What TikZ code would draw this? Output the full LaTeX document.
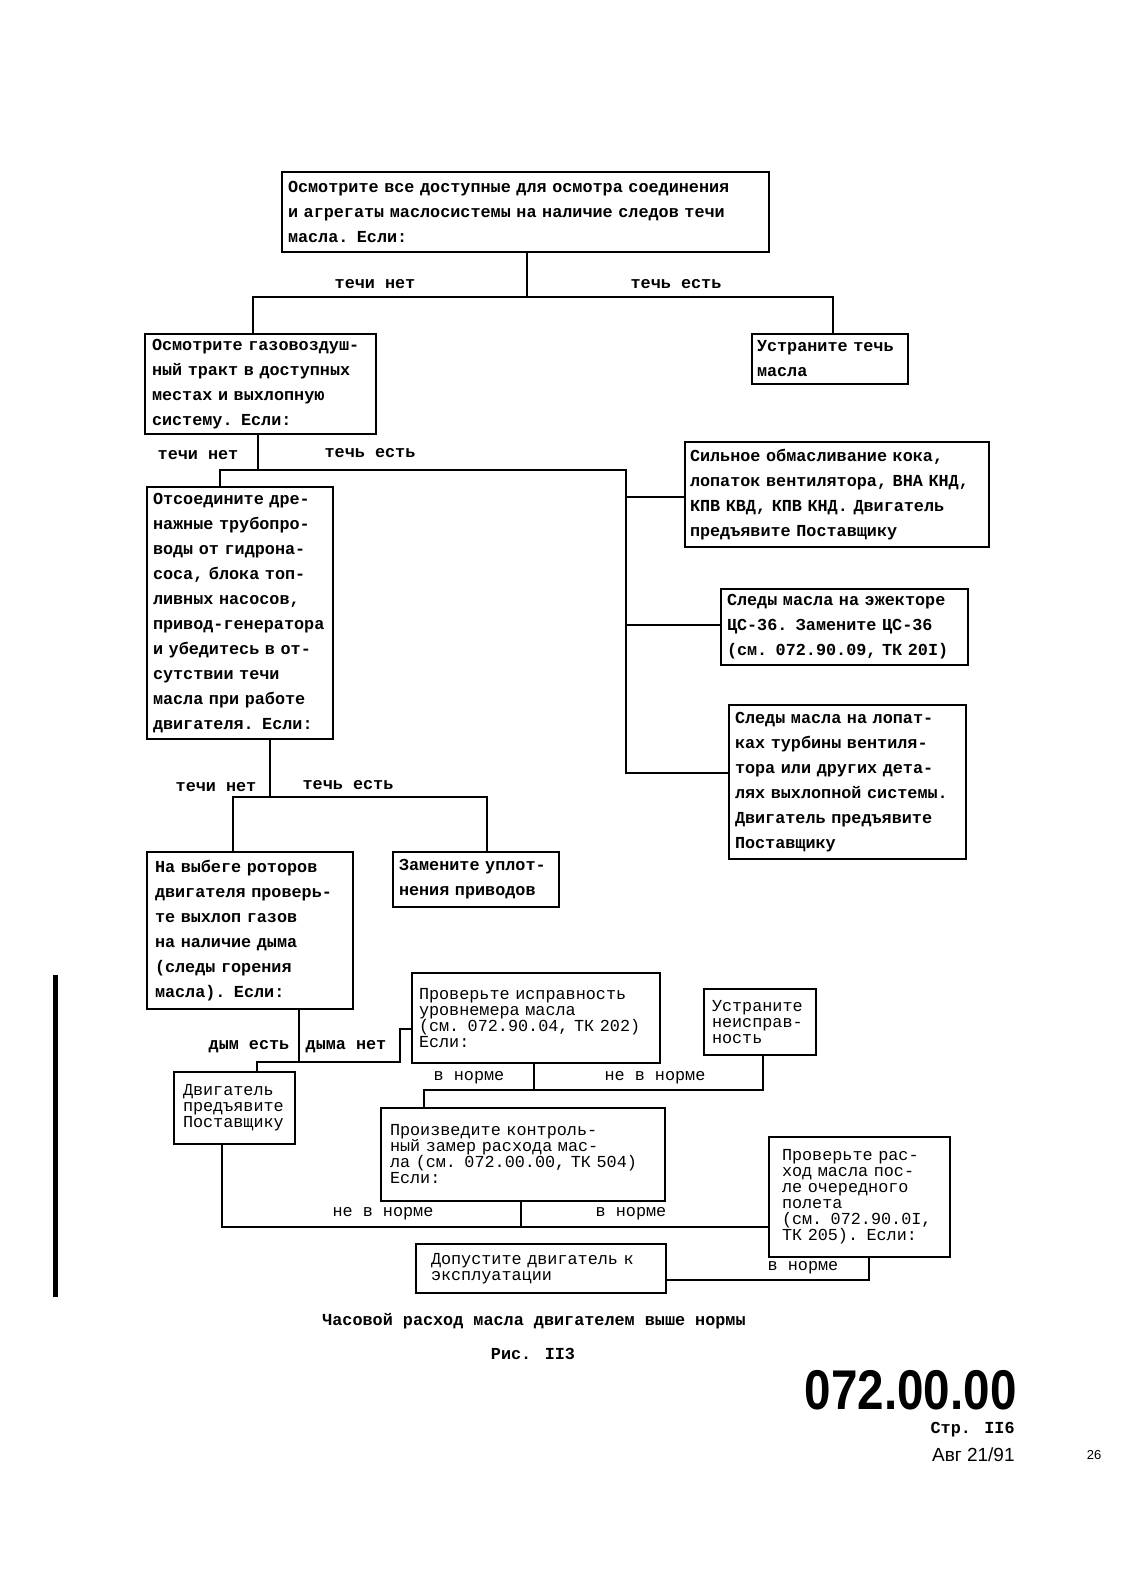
\documentclass[tikz,border=0pt]{standalone}
\usepackage{fontspec}
\newfontfamily\tw{Liberation Mono}
\newfontfamily\hvc{Liberation Sans}[FakeStretch=0.85]
\newfontfamily\hv{Liberation Sans}
\begin{document}
\begin{tikzpicture}[x=0.5pt,y=-0.5pt,
  box/.style={draw,line width=1pt,anchor=north west,align=left,inner ysep=0pt,
    font=\tw\bfseries\fontsize{8.4}{12.5}\selectfont},
  lbox/.style={box,font=\tw\fontsize{8.4}{8}\selectfont},
  conn/.style={line width=0.8pt},
  lbl/.style={font=\tw\bfseries\fontsize{8.4}{10}\selectfont,inner sep=0pt},
  llbl/.style={font=\tw\fontsize{8.4}{10}\selectfont,inner sep=0pt}]
\useasboundingbox[fill=white] (0,0) rectangle (1126,1571);

% boxes
\node[box,minimum width=243.5pt,minimum height=40pt,inner xsep=3pt,text width=237.5pt] (b1) at (281,171)
 {Осмотрите все доступные для осмотра соединения\\и агрегаты маслосистемы на наличие следов течи\\масла. Если:};
\node[box,minimum width=115.5pt,minimum height=50pt,inner xsep=3.5pt,text width=108.5pt] (b2) at (144,333)
 {Осмотрите газовоздуш-\\ный тракт в доступных\\местах и выхлопную\\систему. Если:};
\node[box,minimum width=78pt,minimum height=25pt,inner xsep=2.5pt,text width=73pt] (b3) at (751,333)
 {Устраните течь\\масла};
\node[box,minimum width=93pt,minimum height=126pt,inner xsep=3pt,text width=87pt] (b4) at (146,486)
 {Отсоедините дре-\\нажные трубопро-\\воды от гидрона-\\соса, блока топ-\\ливных насосов,\\привод-генератора\\и убедитесь в от-\\сутствии течи\\масла при работе\\двигателя. Если:};
\node[box,minimum width=152pt,minimum height=52.5pt,inner xsep=2.5pt,text width=147pt] (b5) at (684,441)
 {Сильное обмасливание кока,\\лопаток вентилятора, ВНА КНД,\\КПВ КВД, КПВ КНД. Двигатель\\предъявите Поставщику};
\node[box,minimum width=123.5pt,minimum height=38pt,inner xsep=3pt,text width=117.5pt] (b6) at (720,588)
 {Следы масла на эжекторе\\ЦС-36. Замените ЦС-36\\(см. 072.90.09, ТК 20I)};
\node[box,minimum width=118.5pt,minimum height=77pt,inner xsep=3pt,text width=112.5pt] (b7) at (728,704)
 {Следы масла на лопат-\\ках турбины вентиля-\\тора или других дета-\\лях выхлопной системы.\\Двигатель предъявите\\Поставщику};
\node[box,minimum width=103pt,minimum height=78.5pt,inner xsep=4pt,text width=95pt] (b8) at (146,851)
 {На выбеге роторов\\двигателя проверь-\\те выхлоп газов\\на наличие дыма\\(следы горения\\масла). Если:};
\node[box,minimum width=83pt,minimum height=27.5pt,inner xsep=3pt,text width=77pt] (b9) at (392,851)
 {Замените уплот-\\нения приводов};
\node[lbox,minimum width=124pt,minimum height=45pt,inner xsep=3.5pt,text width=117pt] (b10) at (411,972)
 {Проверьте исправность\\уровнемера масла\\(см. 072.90.04, ТК 202)\\Если:};
\node[lbox,minimum width=56pt,minimum height=33pt,inner xsep=4pt,text width=48pt] (b14) at (703,988)
 {Устраните\\неисправ-\\ность};
\node[lbox,minimum width=60.5pt,minimum height=36pt,inner xsep=4.5pt,text width=51.5pt] (b11) at (173,1071)
 {Двигатель\\предъявите\\Поставщику};
\node[lbox,minimum width=142pt,minimum height=46.5pt,inner xsep=4.5pt,text width=133pt] (b12) at (380,1107)
 {Произведите контроль-\\ный замер расхода мас-\\ла (см. 072.00.00, ТК 504)\\Если:};
\node[lbox,minimum width=90.5pt,minimum height=60pt,inner xsep=6.5pt,text width=77.5pt] (b13) at (768,1136)
 {Проверьте рас-\\ход масла пос-\\ле очередного\\полета\\(см. 072.90.0I,\\ТК 205). Если:};
\node[lbox,minimum width=125pt,minimum height=24.5pt,inner xsep=7.5pt,text width=110pt] (b15) at (415,1243)
 {Допустите двигатель к\\эксплуатации};

% junctions
\coordinate (j1) at (527,297); \coordinate (j1l) at (253,297); \coordinate (j1r) at (833,297);
\coordinate (j2) at (258,470); \coordinate (j2l) at (220,470); \coordinate (j2r) at (626,470);
\coordinate (j2e) at (626,773); \coordinate (j2a) at (626,497); \coordinate (j2b) at (626,625);
\coordinate (j3) at (270,797); \coordinate (j3l) at (233,797); \coordinate (j3r) at (487,797);
\coordinate (j4) at (299,1062); \coordinate (j4l) at (257,1062); \coordinate (j4r) at (400,1062);
\coordinate (j4u) at (400,1029);
\coordinate (j5) at (534,1090); \coordinate (j5l) at (424,1090); \coordinate (j5r) at (763,1090);
\coordinate (j6) at (521,1227); \coordinate (j6l) at (222,1227);
\coordinate (j7) at (869,1280);

% connectors
\draw[conn] (b1.south -| j1) -- (j1);
\draw[conn] (b2.north -| j1l) -- (j1l) -- (j1r) -- (b3.north -| j1r);
\draw[conn] (b2.south -| j2) -- (j2);
\draw[conn] (b4.north -| j2l) -- (j2l) -- (j2r) -- (j2e) -- (b7.west |- j2e);
\draw[conn] (j2a) -- (b5.west |- j2a);
\draw[conn] (j2b) -- (b6.west |- j2b);
\draw[conn] (b4.south -| j3) -- (j3);
\draw[conn] (b8.north -| j3l) -- (j3l) -- (j3r) -- (b9.north -| j3r);
\draw[conn] (b8.south -| j4) -- (j4);
\draw[conn] (b11.north -| j4l) -- (j4l) -- (j4r) -- (j4u) -- (b10.west |- j4u);
\draw[conn] (b10.south -| j5) -- (j5);
\draw[conn] (b12.north -| j5l) -- (j5l) -- (j5r) -- (b14.south -| j5r);
\draw[conn] (b12.south -| j6) -- (j6);
\draw[conn] (b11.south -| j6l) -- (j6l) -- (b13.west |- j6l);
\draw[conn] (b13.south -| j7) -- (j7) -- (b15.east |- j7);

% labels
\node[lbl] (l1) at (375,284) {течи нет};
\node[lbl] (l2) at (676,284) {течь есть};
\node[lbl] (l3) at (198,455) {течи нет};
\node[lbl] (l4) at (370,453) {течь есть};
\node[lbl] (l5) at (216,787) {течи нет};
\node[lbl] (l6) at (348,785) {течь есть};
\node[lbl] (l7) at (249,1047) {дым есть};
\node[lbl] (l8) at (346,1047) {дыма нет};
\node[llbl] (l9) at (469,1078) {в норме};
\node[llbl] (l10) at (655,1078) {не в норме};
\node[llbl] (l11) at (383,1214) {не в норме};
\node[llbl] (l12) at (631,1214) {в норме};
\node[llbl] (l13) at (803,1268) {в норме};

% side bar
\draw[line width=2.5pt] (55,975) -- (55,1297);

% caption and page info
\node[lbl] (cap) at (534,1321) {Часовой расход масла двигателем выше нормы};
\node[lbl] (fig) at (533,1354) {Рис. II3};
\node[font=\hvc\bfseries\fontsize{28}{28}\selectfont,anchor=east,inner sep=0pt] (num) at (1017,1390) {072.00.00};
\node[lbl,anchor=east] (pg) at (1015,1430) {Стр. II6};
\node[font=\hv\fontsize{9.5}{10}\selectfont,anchor=east,inner sep=0pt] (dt) at (1015,1455) {Авг 21/91};
\node[font=\hv\fontsize{6.5}{7}\selectfont,inner sep=0pt] (pn) at (1094,1455) {26};
\end{tikzpicture}
\end{document}
